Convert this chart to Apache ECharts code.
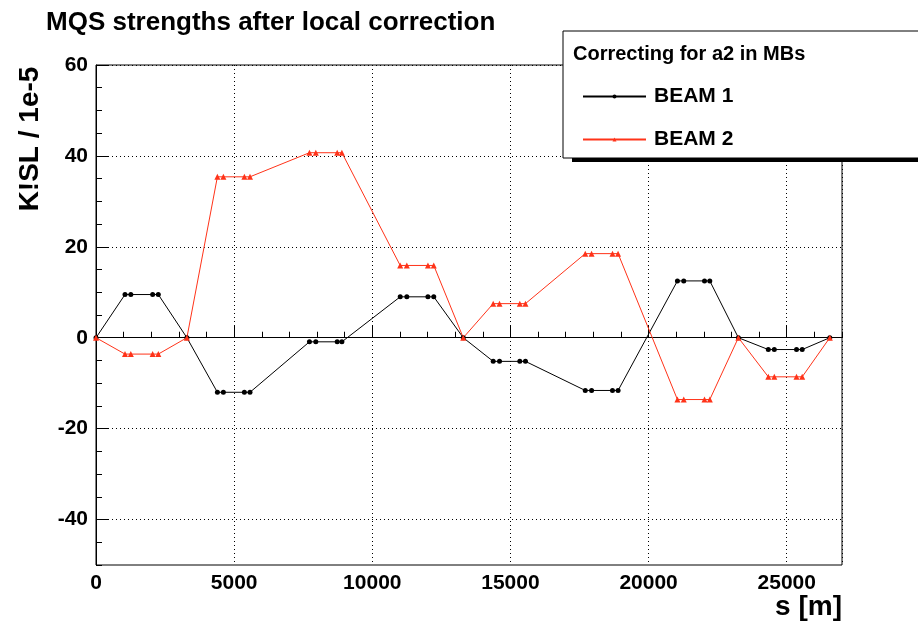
<!DOCTYPE html>
<html>
<head>
<meta charset="utf-8">
<script src="https://cdn.jsdelivr.net/npm/echarts@6/dist/echarts.min.js"></script>
<style>
  html, body { margin: 0; padding: 0; background: #fff; }
  #chart { width: 918px; height: 626px; }
</style>
</head>
<body>
<div id="chart"></div>
<script>
// positions along the ring [m]
var sPos = [0, 1050, 1260, 2050, 2255, 3290, 4394, 4610, 5370, 5573,
    7725, 7955, 8730, 8900, 11010, 11250, 12013, 12225, 13293,
    14376, 14605, 15339, 15543, 17708, 17937, 18693, 18896,
    21043, 21272, 22024, 22215, 23250, 24333, 24550, 25354, 25560, 26558];
// K1SL / 1e-5
var beam1 = [0, 9.5, 9.5, 9.5, 9.5, 0, -12, -12, -12, -12,
    -0.9, -0.9, -0.9, -0.9, 9, 9, 9, 9, 0,
    -5.2, -5.2, -5.2, -5.2, -11.6, -11.6, -11.6, -11.6,
    12.5, 12.5, 12.5, 12.5, 0, -2.6, -2.6, -2.6, -2.6, 0];
var beam2 = [0, -3.6, -3.6, -3.6, -3.6, 0, 35.4, 35.4, 35.4, 35.4,
    40.7, 40.7, 40.7, 40.7, 15.9, 15.9, 15.9, 15.9, 0,
    7.5, 7.5, 7.5, 7.5, 18.5, 18.5, 18.5, 18.5,
    -13.6, -13.6, -13.6, -13.6, 0, -8.6, -8.6, -8.6, -8.6, 0];
var yLabels = [-40, -20, 0, 20, 40, 60];

var font = "'Liberation Sans', Arial, sans-serif";

function pairs(ys) {
    return sPos.map(function (s, i) { return [s, ys[i]]; });
}

var chart = echarts.init(document.getElementById("chart"), null, { renderer: "canvas" });

var option = {
    animation: false,
    backgroundColor: "#fff",
    title: {
        text: "MQS strengths after local correction",
        left: 41,
        top: 5,
        textStyle: { fontFamily: font, fontSize: 26, fontWeight: "bold", color: "#000" }
    },
    grid: {
        left: 96, right: 76, top: 65, bottom: 61,
        show: true, borderColor: "#000", borderWidth: 1, backgroundColor: "transparent"
    },
    xAxis: [
        {
            type: "value", min: 0, max: 27000, interval: 5000,
            axisLine: { lineStyle: { color: "#000", width: 1 } },
            axisTick: { inside: true, length: 12, lineStyle: { color: "#000" } },
            axisLabel: {
                showMaxLabel: false, margin: 8, color: "#000",
                fontFamily: font, fontSize: 21, fontWeight: "bold",
                formatter: function (v) { return String(v); }
            },
            splitLine: { show: true, lineStyle: { color: "#000", type: [1, 3], width: 1 } }
        },
        {
            type: "value", min: 0, max: 27000, interval: 1000, position: "bottom",
            axisLine: { show: false },
            axisTick: { inside: true, length: 6, lineStyle: { color: "#000" } },
            axisLabel: { show: false },
            splitLine: { show: false }
        }
    ],
    yAxis: [
        {
            type: "value", min: -50, max: 60,
            axisLine: { show: true, lineStyle: { color: "#000", width: 1 } },
            axisTick: { inside: true, length: 12, customValues: yLabels, lineStyle: { color: "#000" } },
            axisLabel: {
                customValues: yLabels, margin: 8, color: "#000",
                fontFamily: font, fontSize: 21, fontWeight: "bold"
            },
            splitLine: { show: true, lineStyle: { color: "#000", type: [1, 3], width: 1 } }
        },
        {
            type: "value", min: -50, max: 60, interval: 5, position: "left",
            axisLine: { show: false },
            axisTick: { inside: true, length: 6, lineStyle: { color: "#000" } },
            axisLabel: { show: false },
            splitLine: { show: false }
        }
    ],
    legend: {
        left: 577, top: 81, orient: "vertical",
        itemWidth: 63, itemHeight: 5, itemGap: 22, z: 20,
        textStyle: { fontFamily: font, fontSize: 21, fontWeight: "bold", color: "#000", padding: [0, 0, 0, 3] },
        data: ["BEAM 1", "BEAM 2"]
    },
    graphic: [
        { type: "rect", z: 10, shape: { x: 572, y: 35, width: 360, height: 127 }, style: { fill: "#000" } },
        { type: "rect", z: 11, shape: { x: 563, y: 31, width: 360, height: 127 }, style: { fill: "#fff", stroke: "#000", lineWidth: 1 } },
        { type: "text", z: 12, x: 573, y: 54,
          style: { text: "Correcting for a2 in MBs", font: "bold 20px " + font, fill: "#000", verticalAlign: "middle" } },
        { type: "text", z: 12, x: 30, y: 139, rotation: Math.PI / 2,
          style: { text: "K!SL / 1e-5", font: "bold 28px " + font, fill: "#000", align: "center", verticalAlign: "middle" } },
        { type: "text", z: 12, x: 842, y: 607,
          style: { text: "s [m]", font: "bold 28px " + font, fill: "#000", align: "right", verticalAlign: "middle" } }
    ],
    series: [
        {
            name: "BEAM 1", type: "line", data: pairs(beam1),
            color: "#000", symbol: "circle", symbolSize: 5, showSymbol: true,
            lineStyle: { color: "#000", width: 1 }, itemStyle: { color: "#000" }
        },
        {
            name: "BEAM 2", type: "line", data: pairs(beam2),
            color: "#ff3319", symbol: "triangle", symbolSize: 6, showSymbol: true,
            lineStyle: { color: "#ff3319", width: 1 }, itemStyle: { color: "#ff3319" }
        }
    ]
};

chart.setOption(option);
</script>
</body>
</html>
